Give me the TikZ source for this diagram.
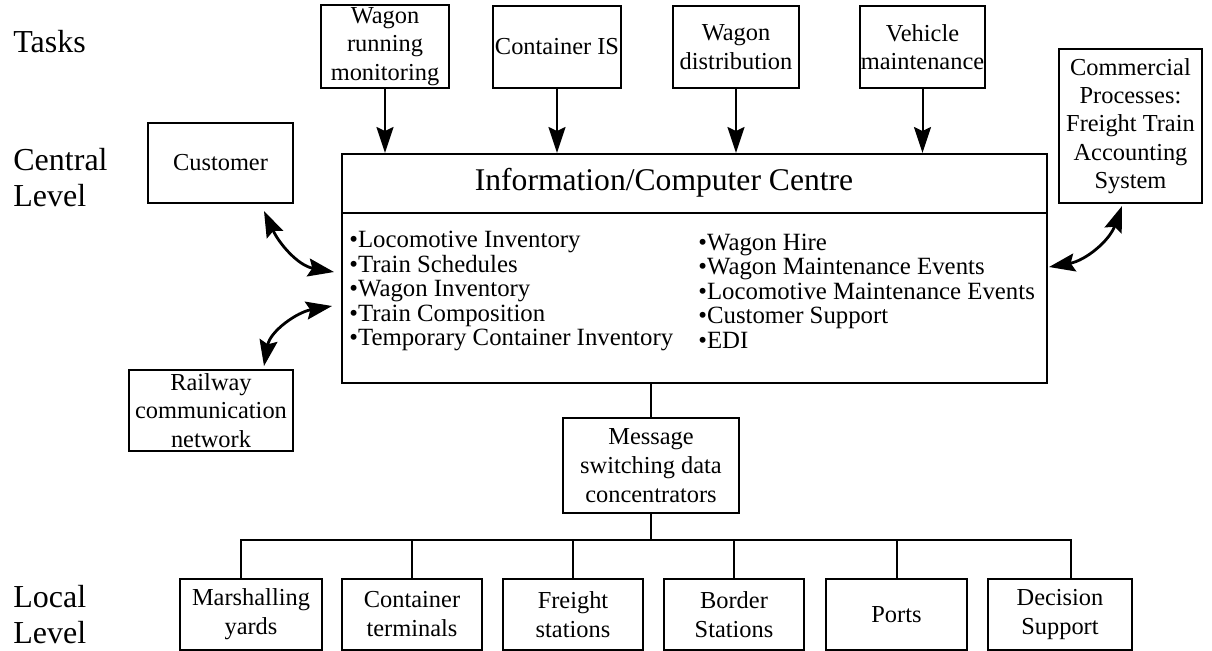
\documentclass[tikz,border=0pt]{standalone}
\usepackage{fontspec}
\setmainfont{Liberation Serif}
\usetikzlibrary{arrows.meta}
\begin{document}
\begin{tikzpicture}[x=0.5pt,y=0.5pt,
  box/.style={draw,line width=1pt,rectangle,align=center,inner sep=0pt,font=\fontsize{12.2}{14.2}\selectfont},
  lbox/.style={box,minimum width=71pt,minimum height=35.5pt,font=\fontsize{12.2}{14.5}\selectfont},
  lvl/.style={anchor=west,align=left,inner sep=0pt,font=\fontsize{16}{18}\selectfont},
  items/.style={anchor=west,align=left,inner sep=0pt,font=\fontsize{12.4}{12.25}\selectfont},
  arr/.style={line width=1pt,-{Stealth[length=13pt,width=8.5pt,inset=2pt]}},
  bi/.style={line width=1.4pt,{Stealth[length=13pt,width=9pt,inset=2pt]}-{Stealth[length=13pt,width=9pt,inset=2pt]}},
  ln/.style={line width=1pt},
]
\useasboundingbox (0,0) rectangle (1212,-650);

% level labels
\node[lvl] (tasks) at (13,-42) {Tasks};
\node[lvl] (central) at (13,-178) {Central\\Level};
\node[lvl] (local) at (13,-615) {Local\\Level};

% task boxes
\node[box,minimum width=64pt,minimum height=41.5pt] (wrm) at (385,-46.5) {Wagon\\running\\monitoring};
\node[box,minimum width=64pt,minimum height=41pt] (cis) at (557,-47) {Container IS};
\node[box,minimum width=63pt,minimum height=41pt] (wd) at (736,-47) {Wagon\\distribution};
\node[box,minimum width=62.5pt,minimum height=41pt] (vm) at (922.5,-47) {Vehicle\\maintenance};
\node[box,minimum width=71.5pt,minimum height=77pt] (cp) at (1130.5,-126) {Commercial\\Processes:\\Freight Train\\Accounting\\System};

% central level
\node[box,minimum width=72.5pt,minimum height=40pt] (cust) at (220.5,-163) {Customer};
\node[box,minimum width=352.5pt,minimum height=114.5pt] (centre) at (694.5,-268.5) {};
\draw[ln] (centre.west |- 0,-213) -- (centre.east |- 0,-213);
\node[inner sep=0pt,font=\fontsize{15.8}{18}\selectfont] (title) at (664,-183) {Information/Computer Centre};
\node[items] (itemsL) at (349,-291) {\textbullet Locomotive Inventory\\\textbullet Train Schedules\\\textbullet Wagon Inventory\\\textbullet Train Composition\\\textbullet Temporary Container Inventory};
\node[items] (itemsR) at (698,-291) {\textbullet Wagon Hire\\\textbullet Wagon Maintenance Events\\\textbullet Locomotive Maintenance Events\\\textbullet Customer Support\\\textbullet EDI};

\node[box,minimum width=82pt,minimum height=40.5pt] (rail) at (211,-410.5) {Railway\\communication\\network};
\node[box,minimum width=88pt,minimum height=47.5pt,font=\fontsize{12.2}{14.5}\selectfont] (msg) at (651,-465.5) {Message\\switching data\\concentrators};

% local level
\node[lbox] (my) at (251,-614.5) {Marshalling\\yards};
\node[lbox,minimum width=70pt] (ct) at (412,-614.5) {Container\\terminals};
\node[lbox,minimum width=70pt] (fs) at (573,-614.5) {Freight\\stations};
\node[lbox,minimum width=70pt] (bs) at (734,-614.5) {Border\\Stations};
\node[lbox,minimum width=70.5pt] (pt) at (896.5,-614.5) {Ports};
\node[lbox,minimum width=72pt] (ds) at (1060,-614.5) {Decision\\Support};

% task arrows
\draw[arr] (wrm.south) -- (wrm.south |- centre.north);
\draw[arr] (cis.south) -- (cis.south |- centre.north);
\draw[arr] (wd.south) -- (wd.south |- centre.north);
\draw[arr] (vm.south) -- (vm.south |- centre.north);

% bidirectional curves
\draw[bi] ([xshift=-15pt,yshift=-3.5pt]cust.south east) to[out=-65,in=170] ([xshift=-3.5pt,yshift=-1.75pt]centre.west);
\draw[bi] ([xshift=-15pt,yshift=1.5pt]rail.north east) to[out=80,in=190] ([xshift=-4.5pt,yshift=-18.75pt]centre.west);
\draw[bi] ([xshift=-4.25pt,yshift=-1pt]cp.south) to[out=-110,in=10] ([xshift=0.5pt,yshift=0.75pt]centre.east);

% centre to message concentrator
\draw[ln] (msg.north |- centre.south) -- (msg.north);

% bus
\coordinate (bus) at (0,-540);
\draw[ln] (msg.south) -- (msg.south |- bus);
\draw[ln] ([xshift=-5pt]my.north) -- ([xshift=-5pt]my.north |- bus) -- ([xshift=5.5pt]ds.north |- bus) -- ([xshift=5.5pt]ds.north);
\draw[ln] (ct.north) -- (ct.north |- bus);
\draw[ln] (fs.north) -- (fs.north |- bus);
\draw[ln] (bs.north) -- (bs.north |- bus);
\draw[ln] (pt.north) -- (pt.north |- bus);
\end{tikzpicture}
\end{document}
